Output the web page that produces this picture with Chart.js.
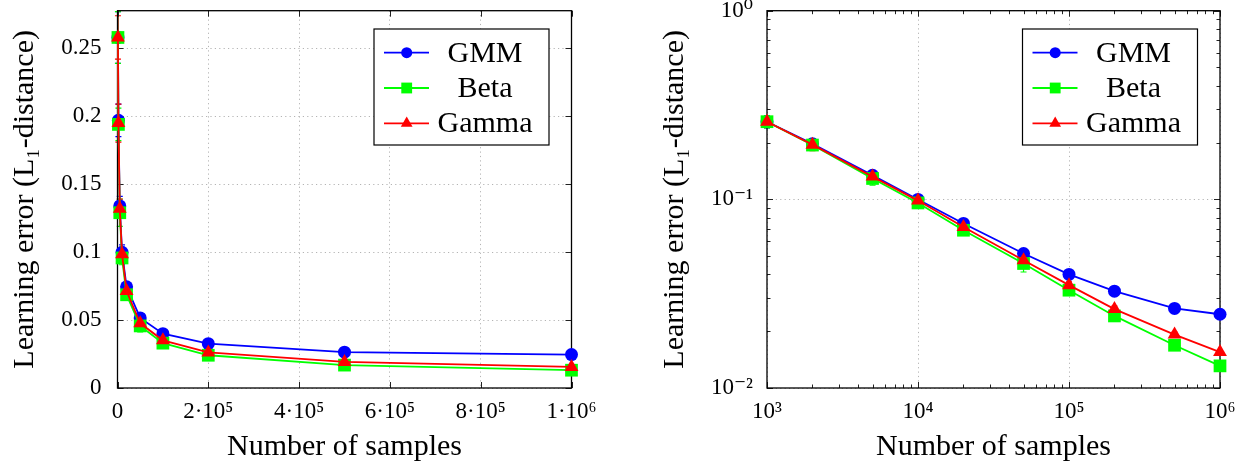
<!DOCTYPE html>
<html><head><meta charset="utf-8">
<script src="https://cdn.jsdelivr.net/npm/chart.js@4.4.1/dist/chart.umd.min.js"></script>
<style>
html,body{margin:0;padding:0;background:#fff;width:1250px;height:465px;overflow:hidden}
.box{position:absolute;top:0;height:465px;width:625px}
#b1{left:0} #b2{left:625px}
canvas{display:block}
</style></head><body>
<div class="box" id="b1"><canvas id="c1" width="625" height="465"></canvas></div>
<div class="box" id="b2"><canvas id="c2" width="625" height="465"></canvas></div>
<script>
// ---- data ----
const sampleSizes = [1000, 2000, 5000, 10000, 20000, 50000, 100000, 200000, 500000, 1000000];
const gmmError   = [0.258, 0.197, 0.134, 0.0999, 0.0745, 0.0516, 0.0400, 0.0326, 0.0264, 0.0246];
const betaError  = [0.258, 0.194, 0.129, 0.0957, 0.0686, 0.0457, 0.0330, 0.0241, 0.01685, 0.0131];
const gammaError = [0.258, 0.195, 0.132, 0.0985, 0.0714, 0.0476, 0.0351, 0.0262, 0.0192, 0.0155];
const gmmStd   = [0.019, 0.012, 0.007, 0.0055, 0.002, 0.001, 0.0008, 0.0005, 0.0004, 0.0003];
const betaStd  = [0.019, 0.012, 0.010, 0.005, 0.002, 0.0045, 0.001, 0.0006, 0.0005, 0.0003];
const gammaStd = [0.016, 0.014, 0.007, 0.005, 0.002, 0.0015, 0.0014, 0.001, 0.0006, 0.0004];
const seriesNames = ['GMM', 'Beta', 'Gamma'];

const linXTicks = [0, 200000, 400000, 600000, 800000, 1000000];
const linXTickLabels = ['0', '2·10⁵', '4·10⁵', '6·10⁵', '8·10⁵', '1·10⁶'];
const linYTicks = [0, 0.05, 0.1, 0.15, 0.2, 0.25];
const linYTickLabels = ['0', '0.05', '0.1', '0.15', '0.2', '0.25'];
const logXTicks = [1e3, 1e4, 1e5, 1e6];
const logXTickLabels = ['10³', '10⁴', '10⁵', '10⁶'];
const logYTicks = [0.01, 0.1, 1];
const logYTickLabels = ['10⁻²', '10⁻¹', '10⁰'];

const xTitle = 'Number of samples';
const yTitle = 'Learning error (L₁-distance)';

Chart.defaults.font.family = '"Liberation Serif", "DejaVu Serif", serif';
Chart.defaults.color = '#000';

function makeDatasets() {
  const vals = [gmmError, betaError, gammaError];
  const errs = [gmmStd, betaStd, gammaStd];
  const colors = ['#0000ff', '#00ff00', '#ff0000'];
  const styles = ['circle', 'rect', 'triangle'];
  const radii = [6.5, 9, 8];
  return seriesNames.map((name, i) => ({
    label: name,
    data: sampleSizes.map((x, j) => ({x: x, y: vals[i][j]})),
    errors: errs[i],
    borderColor: colors[i],
    backgroundColor: colors[i],
    pointStyle: styles[i],
    pointRadius: radii[i],
    pointHoverRadius: radii[i],
    pointBorderWidth: 0,
    borderWidth: 1.8,
    tension: 0,
    order: 3 - i,
    clip: false
  }));
}

const errorBars = {
  id: 'errorBars',
  beforeDatasetsDraw(chart) {
    const {ctx, scales: {x, y}} = chart;
    chart.data.datasets.forEach(ds => {
      ctx.save();
      ctx.strokeStyle = ds.borderColor;
      ctx.lineWidth = 1.2;
      ds.data.forEach((p, j) => {
        const e = ds.errors[j];
        const px = x.getPixelForValue(p.x);
        const yt = y.getPixelForValue(p.y + e);
        const yb = y.getPixelForValue(p.y - e);
        ctx.beginPath();
        ctx.moveTo(px, yt); ctx.lineTo(px, yb);
        ctx.moveTo(px - 3, yt); ctx.lineTo(px + 3, yt);
        ctx.moveTo(px - 3, yb); ctx.lineTo(px + 3, yb);
        ctx.stroke();
      });
      ctx.restore();
    });
  }
};

function minorLogValues(min, max) {
  const out = [];
  for (let k = Math.floor(Math.log10(min)); k < Math.ceil(Math.log10(max)); k++) {
    for (let m = 2; m <= 9; m++) out.push(m * Math.pow(10, k));
  }
  return out;
}

const frame = {
  id: 'frame',
  beforeDatasetsDraw(chart, args, opts) {
    const {ctx, chartArea: a, scales: {x, y}} = chart;
    ctx.save();
    ctx.strokeStyle = '#222';
    ctx.lineWidth = 1;
    const seg = (x1, y1, x2, y2) => { ctx.beginPath(); ctx.moveTo(x1, y1); ctx.lineTo(x2, y2); ctx.stroke(); };
    const major = 6, minor = 3.5;
    x.ticks.forEach(t => { const p = Math.round(x.getPixelForValue(t.value)) + 0.5; seg(p, a.bottom, p, a.bottom - major); seg(p, a.top, p, a.top + major); });
    y.ticks.forEach(t => { const p = Math.round(y.getPixelForValue(t.value)) + 0.5; seg(a.left, p, a.left + major, p); seg(a.right, p, a.right - major, p); });
    if (opts.logMinor) {
      minorLogValues(x.min, x.max).forEach(v => { const p = Math.round(x.getPixelForValue(v)) + 0.5; seg(p, a.bottom, p, a.bottom - minor); seg(p, a.top, p, a.top + minor); });
      minorLogValues(y.min, y.max).forEach(v => { const p = Math.round(y.getPixelForValue(v)) + 0.5; seg(a.left, p, a.left + minor, p); seg(a.right, p, a.right - minor, p); });
    }
    ctx.strokeStyle = '#000';
    ctx.lineWidth = 1.3;
    ctx.strokeRect(a.left, a.top, a.right - a.left, a.bottom - a.top);
    ctx.restore();
  }
};

const boxLegend = {
  id: 'boxLegend',
  afterDraw(chart) {
    const {ctx, chartArea: a} = chart;
    const left = a.right - 197.5, top = a.top + 18.3, w = 175, h = 116;
    ctx.save();
    ctx.fillStyle = '#fff';
    ctx.fillRect(left, top, w, h);
    ctx.strokeStyle = '#000';
    ctx.lineWidth = 1.2;
    ctx.strokeRect(left, top, w, h);
    chart.data.datasets.forEach((ds, i) => {
      const yy = top + 23.7 + i * 35.3;
      ctx.strokeStyle = ds.borderColor;
      ctx.lineWidth = 1.8;
      ctx.beginPath(); ctx.moveTo(left + 10, yy); ctx.lineTo(left + 55, yy); ctx.stroke();
      ctx.fillStyle = ds.backgroundColor;
      Chart.helpers.drawPoint(ctx, {pointStyle: ds.pointStyle, radius: ds.pointRadius * 0.85, rotation: 0, borderWidth: 0}, left + 32.7, yy);
      ctx.fillStyle = '#000';
      ctx.font = '30px "Liberation Serif", "DejaVu Serif", serif';
      ctx.textAlign = 'center';
      ctx.textBaseline = 'middle';
      ctx.fillText(ds.label, left + 111, yy + 1);
    });
    ctx.restore();
  }
};

function makeChart(canvasId, cfg) {
  const gridCommon = {color: '#b4b4b4', lineWidth: 1, drawTicks: false};
  const borderCommon = {display: false, dash: [1.2, 3.2]};
  return new Chart(document.getElementById(canvasId), {
    type: 'line',
    data: {datasets: makeDatasets()},
    plugins: [errorBars, frame, boxLegend],
    options: {
      responsive: false,
      animation: false,
      events: [],
      layout: {padding: {left: 0, right: cfg.padRight, top: 10.7, bottom: 0}},
      plugins: {legend: {display: false}, tooltip: {enabled: false}, frame: {logMinor: cfg.log}},
      scales: {
        x: {
          type: cfg.log ? 'logarithmic' : 'linear',
          min: cfg.xMin, max: cfg.xMax,
          grid: gridCommon, border: borderCommon,
          afterBuildTicks: s => { s.ticks = cfg.xTicks.map(v => ({value: v})); },
          afterFit: s => { s.height = 77; s.paddingLeft = 0; s.paddingRight = 0; },
          ticks: {padding: 10, maxRotation: 0, autoSkip: false, font: {size: 23}, callback: (v, i) => cfg.xLabels[i]},
          title: {display: true, text: xTitle, font: {size: 30}, padding: {top: 0, bottom: 0}}
        },
        y: {
          type: cfg.log ? 'logarithmic' : 'linear',
          min: cfg.yMin, max: cfg.yMax,
          grid: gridCommon, border: borderCommon,
          afterBuildTicks: s => { s.ticks = cfg.yTicks.map(v => ({value: v})); },
          afterFit: s => { s.width = cfg.yWidth; s.paddingTop = 0; s.paddingBottom = 0; },
          ticks: {padding: cfg.yTickPad, autoSkip: false, font: {size: 23}, callback: (v, i) => cfg.yLabels[i]},
          title: {display: true, text: yTitle, font: {size: 30}, padding: {top: cfg.yTitlePad, bottom: 0}}
        }
      }
    }
  });
}

makeChart('c1', {log: false, xMin: 0, xMax: 1000000, yMin: 0, yMax: 0.2777,
  xTicks: linXTicks, xLabels: linXTickLabels, yTicks: linYTicks, yLabels: linYTickLabels,
  yWidth: 117.5, padRight: 53.5, yTickPad: 16, yTitlePad: 7});
makeChart('c2', {log: true, xMin: 1000, xMax: 1000000, yMin: 0.01, yMax: 1,
  xTicks: logXTicks, xLabels: logXTickLabels, yTicks: logYTicks, yLabels: logYTickLabels,
  yWidth: 142, padRight: 30, yTickPad: 14, yTitlePad: 32});
</script>
</body></html>
